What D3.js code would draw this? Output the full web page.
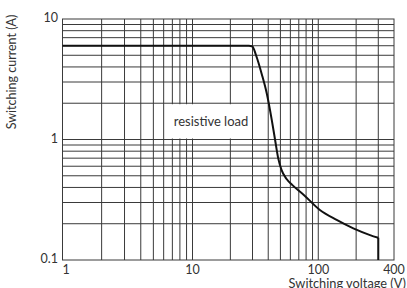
<!DOCTYPE html>
<html>
<head>
<meta charset="utf-8">
<script src="https://cdn.jsdelivr.net/npm/d3@7"></script>
<style>
    body { margin: 0; background: #fff; }
    svg { display: block; }
    text { font-family: Lato, "Liberation Sans", sans-serif; fill: #333; }
    .grid line { stroke: #3a3a3a; stroke-width: 1; }
    .frame { fill: none; stroke: #3a3a3a; stroke-width: 1; }
    .curve { fill: none; stroke: #111; stroke-width: 2; }
</style>
</head>
<body>
<div id="chart"></div>
<script>
// switching voltage (V) and current (A)
const voltage = [1, 28, 30, 32, 35.5, 39, 42.7, 45.3, 48, 51, 56, 62, 76, 103, 140, 190, 258, 300];
const current = [6, 6, 5.9, 5, 3.5, 2.4, 1.45, 1.0, 0.7, 0.56, 0.47, 0.42, 0.35, 0.26, 0.215, 0.183, 0.161, 0.153];
const dropVoltage = [300, 300];
const dropCurrent = [0.153, 0.1];

const xGrid = [2, 3, 4, 5, 6, 7, 8, 9, 10, 20, 30, 40, 50, 60, 70, 80, 90, 100, 200, 300];
const yGrid = [0.2, 0.3, 0.4, 0.5, 0.6, 0.7, 0.8, 0.9, 1, 2, 3, 4, 5, 6, 7, 8, 9];
const xTicks = [1, 10, 100, 400];
const yTicks = [0.1, 1, 10];
const xTitle = "Switching voltage (V)";
const yTitle = "Switching current (A)";
const curveLabel = "resistive load";

const width = 407, height = 288;

const svg = d3.select("#chart").append("svg")
    .attr("width", width)
    .attr("height", height);

// piecewise log scale, the printed decades are not quite even
const x = d3.scaleLog()
    .domain([1, 10, 400])
    .range([62.5, 192.5, 394]);

const y = d3.scaleLog()
    .domain([0.1, 10])
    .range([260, 19]);

// grid
const grid = svg.append("g").attr("class", "grid");

grid.selectAll(".vline")
    .data(xGrid)
    .enter().append("line")
    .attr("class", "vline")
    .attr("x1", d => x(d)).attr("x2", d => x(d))
    .attr("y1", y(10)).attr("y2", y(0.1));

grid.selectAll(".hline")
    .data(yGrid)
    .enter().append("line")
    .attr("class", "hline")
    .attr("x1", x(1)).attr("x2", x(400))
    .attr("y1", d => y(d)).attr("y2", d => y(d));

svg.append("rect")
    .attr("class", "frame")
    .attr("x", x(1))
    .attr("y", y(10))
    .attr("width", x(400) - x(1))
    .attr("height", y(0.1) - y(10));

// label box knocks out the grid
svg.append("rect")
    .attr("x", x(6.3))
    .attr("y", y(2) + 1)
    .attr("width", x(29.5) - x(6.3))
    .attr("height", y(1) - y(2) - 2)
    .attr("fill", "#fff");

svg.append("text")
    .attr("x", (x(6.3) + x(29.5)) / 2 + 2)
    .attr("y", y(1.4) + 4)
    .attr("text-anchor", "middle")
    .attr("font-size", 13)
    .text(curveLabel);

// curve
const pts = voltage.map((v, i) => [v, current[i]]);
const line = d3.line()
    .x(d => x(d[0]))
    .y(d => y(d[1]))
    .curve(d3.curveMonotoneX);

svg.append("path")
    .attr("class", "curve")
    .attr("d", line(pts));

svg.append("path")
    .attr("class", "curve")
    .attr("d", d3.line().x(d => x(d[0])).y(d => y(d[1]))(dropVoltage.map((v, i) => [v, dropCurrent[i]])));

// tick labels
svg.selectAll(".ylab")
    .data(yTicks)
    .enter().append("text")
    .attr("class", "ylab")
    .attr("x", 58)
    .attr("y", d => y(d) + 3)
    .attr("text-anchor", "end")
    .attr("font-size", 12.5)
    .text(d => d);

svg.selectAll(".xlab")
    .data(xTicks)
    .enter().append("text")
    .attr("class", "xlab")
    .attr("x", d => x(d))
    .attr("y", 274)
    .attr("text-anchor", d => d === 1 ? "start" : "middle")
    .attr("font-size", 12.5)
    .text(d => d);

// axis titles
svg.append("text")
    .attr("x", 406)
    .attr("y", 287.5)
    .attr("text-anchor", "end")
    .attr("font-size", 12.8)
    .text(xTitle);

svg.append("text")
    .attr("transform", "translate(16,72) rotate(-90)")
    .attr("text-anchor", "middle")
    .attr("font-size", 12.5)
    .text(yTitle);
</script>
</body>
</html>
